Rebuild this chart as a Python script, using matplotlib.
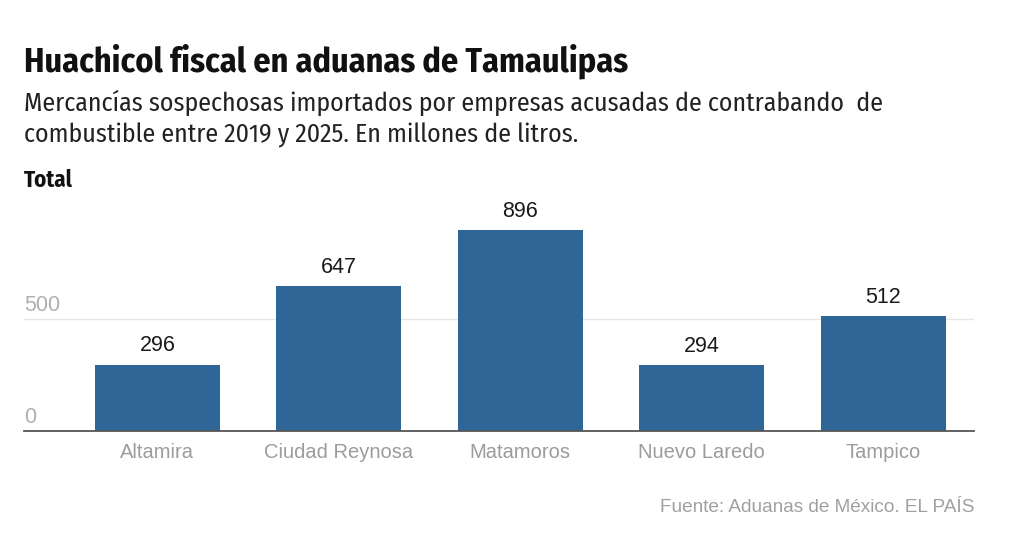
import matplotlib
matplotlib.use("Agg")
import matplotlib.pyplot as plt

# datos
aduanas = ["Altamira", "Ciudad Reynosa", "Matamoros", "Nuevo Laredo", "Tampico"]
litros = [296, 647, 896, 294, 512]
yticks = [0, 500]

COND = "Fira Sans Condensed"
SANS = "Liberation Sans"

W, H = 1024, 539
fig = plt.figure(figsize=(W / 100, H / 100), dpi=100)

# axes placed in pixel coords: left 24, right 974, baseline 431, top 200
left, right, bottom, top = 24, 974, 431, 200
ax = fig.add_axes([left / W, 1 - bottom / H, (right - left) / W, (bottom - top) / H])

ymax = (bottom - top) / 112 * 500
x = list(range(len(aduanas)))
ax.bar(x, litros, width=0.69, color="#2e6797", zorder=2)
ax.set_xlim(-0.735, 4.5)
ax.set_ylim(0, ymax)

for xi, v in zip(x, litros):
    ax.annotate(str(v), (xi, v), xytext=(0, 6), textcoords="offset points",
                ha="center", va="bottom", fontsize=15.5, color="#1a1a1a",
                family=SANS)

ax.set_yticks(yticks)
ax.set_yticklabels([])
for t in yticks:
    ax.text(-0.735, t + 14, str(t), ha="left", va="bottom", fontsize=15.5,
            color="#b0b0b0", family=SANS)
ax.grid(axis="y", color="#e6e6e6", linewidth=1, zorder=0)
ax.set_xticks(x)
ax.set_xticklabels(aduanas, fontsize=14.5, color="#9c9c9c", family=SANS)
ax.tick_params(axis="both", length=0)
ax.tick_params(axis="x", pad=9)
for s in ["top", "right", "left"]:
    ax.spines[s].set_visible(False)
ax.spines["bottom"].set_color("#555555")
ax.spines["bottom"].set_linewidth(1.3)
ax.spines["bottom"].set_zorder(3)

fig.text(24 / W, 1 - 61 / H, "Huachicol fiscal en aduanas de Tamaulipas",
         fontsize=24.5, fontweight=700, family=COND,
         va="center", ha="left", color="#111111")
fig.text(24 / W, 1 - 103 / H,
         "Mercancías sospechosas importados por empresas acusadas de contrabando  de",
         fontsize=18.6, fontweight=400, family=COND, va="center", ha="left", color="#222222")
fig.text(24 / W, 1 - 135 / H,
         "combustible entre 2019 y 2025. En millones de litros.",
         fontsize=18.6, fontweight=400, family=COND, va="center", ha="left", color="#222222")
fig.text(24 / W, 1 - 180 / H, "Total", fontsize=16.5, fontweight=700,
         family=COND, va="center", ha="left", color="#111111")
fig.text(974 / W, 1 - 508 / H, "Fuente: Aduanas de México. EL PAÍS",
         fontsize=13.7, family=SANS, va="center", ha="right", color="#a0a0a0")

fig.savefig("out.png", dpi=100)
